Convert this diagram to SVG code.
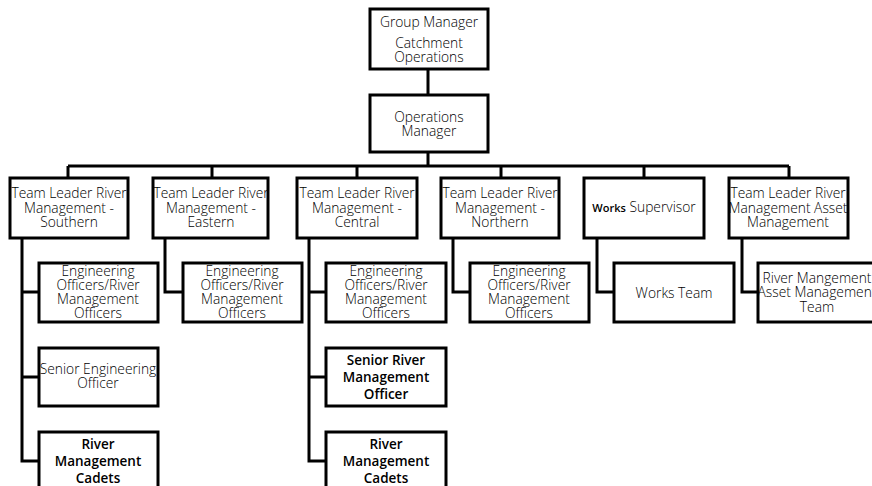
<svg xmlns="http://www.w3.org/2000/svg" width="872" height="486" viewBox="0 0 872 486">
<style>
.box{fill:#fff;stroke:#000;stroke-width:3}
.ln{fill:none;stroke:#000;stroke-width:3}
text{font-family:"Open Sans","Noto Sans",sans-serif;font-size:13.8px;font-weight:300;fill:#000;text-anchor:middle}
.b{font-weight:600;font-size:13.5px}
.w{font-weight:600;font-size:11px}
</style>
<rect width="872" height="486" fill="#fff"/>
<g id="connectors">
<path class="ln" d="M428 69V95M428 152V166M68 166H789M68 166V178M212 166V178M357 166V178M501 166V178M644 166V178M789 166V178"/>
<path class="ln" d="M22 238V461H39M22 292H39M22 377H39"/>
<path class="ln" d="M165 238V292H183"/>
<path class="ln" d="M309 238V461H326M309 292H326M309 377H326"/>
<path class="ln" d="M453 238V292H470"/>
<path class="ln" d="M597 238V292H614"/>
<path class="ln" d="M742 238V292H758"/>
</g>
<g id="n-group"><rect class="box" x="370" y="9" width="118" height="60"/><text x="429" y="27">Group Manager</text><text x="429" y="48">Catchment</text><text x="429" y="62">Operations</text></g>
<g id="n-ops"><rect class="box" x="370" y="95" width="118" height="57"/><text x="429" y="122">Operations</text><text x="429" y="136">Manager</text></g>
<g id="n-south"><rect class="box" x="10" y="178" width="118" height="60"/><text x="69" y="198">Team Leader River</text><text x="69" y="212.5">Management -</text><text x="69" y="227">Southern</text></g>
<g id="n-east"><rect class="box" x="153" y="178" width="115" height="60"/><text x="211" y="198">Team Leader River</text><text x="211" y="212.5">Management -</text><text x="211" y="227">Eastern</text></g>
<g id="n-central"><rect class="box" x="297" y="178" width="120" height="60"/><text x="357" y="198">Team Leader River</text><text x="357" y="212.5">Management -</text><text x="357" y="227">Central</text></g>
<g id="n-north"><rect class="box" x="441" y="178" width="118" height="60"/><text x="500" y="198">Team Leader River</text><text x="500" y="212.5">Management -</text><text x="500" y="227">Northern</text></g>
<g id="n-works"><rect class="box" x="584" y="178" width="120" height="60"/><text x="644" y="212"><tspan class="w">Works</tspan> Supervisor</text></g>
<g id="n-asset"><rect class="box" x="729" y="178" width="119" height="60"/><text x="788" y="198">Team Leader River</text><text x="788" y="212.5">Management Asset</text><text x="788" y="227">Management</text></g>
<g id="n-eo1"><rect class="box" x="39" y="263" width="119" height="59"/><text x="98" y="276">Engineering</text><text x="98" y="290">Officers/River</text><text x="98" y="304">Management</text><text x="98" y="318">Officers</text></g>
<g id="n-eo2"><rect class="box" x="183" y="263" width="119" height="59"/><text x="242" y="276">Engineering</text><text x="242" y="290">Officers/River</text><text x="242" y="304">Management</text><text x="242" y="318">Officers</text></g>
<g id="n-eo3"><rect class="box" x="326" y="263" width="120" height="59"/><text x="386" y="276">Engineering</text><text x="386" y="290">Officers/River</text><text x="386" y="304">Management</text><text x="386" y="318">Officers</text></g>
<g id="n-eo4"><rect class="box" x="470" y="263" width="119" height="59"/><text x="529" y="276">Engineering</text><text x="529" y="290">Officers/River</text><text x="529" y="304">Management</text><text x="529" y="318">Officers</text></g>
<g id="n-worksteam"><rect class="box" x="614" y="263" width="120" height="59"/><text x="674" y="298">Works Team</text></g>
<g id="n-assetteam"><rect class="box" x="758" y="263" width="119" height="59"/><text x="817" y="283">River Mangement</text><text x="817" y="297">Asset Management</text><text x="817" y="312">Team</text></g>
<g id="n-seo"><rect class="box" x="39" y="348" width="119" height="58"/><text x="98" y="374">Senior Engineering</text><text x="98" y="388">Officer</text></g>
<g id="n-srmo"><rect class="box" x="326" y="348" width="120" height="58"/><text class="b" x="386" y="365">Senior River</text><text class="b" x="386" y="382">Management</text><text class="b" x="386" y="399">Officer</text></g>
<g id="n-cadets1"><rect class="box" x="39" y="432" width="119" height="60"/><text class="b" x="98" y="449">River</text><text class="b" x="98" y="466">Management</text><text class="b" x="98" y="483">Cadets</text></g>
<g id="n-cadets2"><rect class="box" x="326" y="432" width="120" height="60"/><text class="b" x="386" y="449">River</text><text class="b" x="386" y="466">Management</text><text class="b" x="386" y="483">Cadets</text></g>
</svg>
